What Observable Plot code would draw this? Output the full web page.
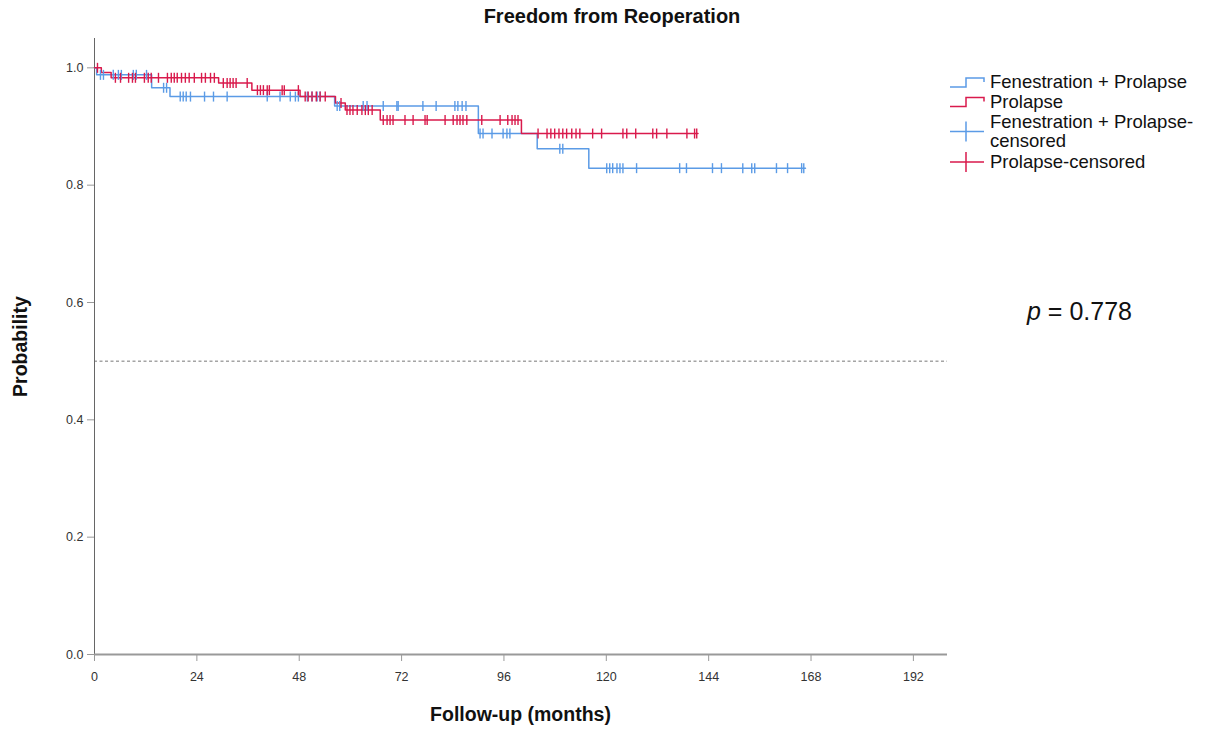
<!DOCTYPE html>
<html>
<head>
<meta charset="utf-8">
<script src="https://cdn.jsdelivr.net/npm/d3@7"></script>
<script src="https://cdn.jsdelivr.net/npm/@observablehq/plot@0.6"></script>
<style>
  body { margin: 0; background: #fff; font-family: "Liberation Sans", Arial, Helvetica, sans-serif; }
  #wrap { position: relative; width: 1216px; height: 729px; }
  .ov { position: absolute; color: #111; white-space: nowrap; }
</style>
</head>
<body>
<div id="wrap"></div>
<script>
// ---- data ----
const seriesNames = ["Fenestration + Prolapse", "Prolapse"];
const seriesColors = ["#5b9be6", "#d91a4c"];

// Kaplan–Meier step points
const blueTimes = [0, 0.5, 13.4, 17.7, 56.3, 90.0, 103.8, 115.9, 166.7];
const blueSurv  = [1.0, 0.988, 0.966, 0.951, 0.935, 0.888, 0.862, 0.829, 0.829];
const redTimes  = [0, 1.6, 3.9, 29.1, 36.9, 48.2, 56.5, 58.8, 67.0, 100.1, 141.5];
const redSurv   = [1.0, 0.992, 0.983, 0.974, 0.962, 0.951, 0.940, 0.928, 0.911, 0.888, 0.888];

// censoring times (months)
const blueCensor = [1.4, 2.1, 4.4, 5.6, 6.3, 9.1, 9.8, 12.2,
  16.2, 16.9,
  20.1, 20.8, 21.5, 22.5, 25.8, 27.9, 31.1, 40.5, 43.5, 45.9, 47.1, 47.8, 49.9, 51.0, 52.2, 52.9,
  56.9, 57.5, 63.0, 63.9, 67.7, 70.9, 71.2, 77.0, 80.1, 84.5, 85.2, 86.2, 87.1,
  90.4, 91.1, 93.2, 95.8, 96.7, 97.4,
  109.1, 109.8,
  120.1, 120.8, 121.5, 122.5, 123.2, 123.9, 127.1, 137.2, 138.8, 144.9, 147.0, 152.0, 154.1, 154.8,
  159.9, 162.5, 165.8, 166.3];
const redCensor = [0.7,
  4.9, 6.1, 8.0, 8.9, 9.6, 11.7, 12.6, 13.3, 15.0, 17.1, 18.0, 18.7, 19.4, 20.4, 21.3, 22.2, 23.4,
  25.1, 26.0, 27.2, 28.1,
  30.2, 31.1, 31.8, 32.5, 33.2, 35.8,
  38.2, 38.9, 39.6, 40.5, 41.0, 44.0, 44.5, 47.8,
  49.4, 50.1, 51.0, 52.0, 52.9, 54.1,
  57.8,
  59.2, 59.9, 60.6, 61.6, 62.7, 63.5, 64.2, 65.1,
  67.7, 68.6, 69.3, 70.0, 72.8, 74.7, 77.5, 78.0, 82.2, 84.1, 85.0, 85.7, 86.4, 87.3, 90.8,
  95.1, 96.9, 97.9, 98.6, 99.3,
  104.0, 106.1, 107.0, 107.9, 108.9, 109.8, 110.7, 111.9, 112.9, 113.8, 116.8, 118.9, 123.9,
  124.8, 126.9, 130.9, 131.8, 134.2, 138.9, 140.7, 141.2];

const xTicks = [0, 24, 48, 72, 96, 120, 144, 168, 192];
const yTicks = [0, 0.2, 0.4, 0.6, 0.8, 1.0];
const pText = "0.778";

// ---- build tables ----
function stepTable(times, surv, name) {
  return times.map((t, i) => ({t, s: surv[i], name}));
}
function survAt(times, surv, t) {
  let v = surv[0];
  for (let i = 0; i < times.length; i++) if (times[i] <= t) v = surv[i];
  return v;
}
const curves = [
  ...stepTable(blueTimes, blueSurv, seriesNames[0]),
  ...stepTable(redTimes, redSurv, seriesNames[1])
];
const censors = [
  ...blueCensor.map(t => ({t, s: survAt(blueTimes, blueSurv, t), name: seriesNames[0]})),
  ...redCensor.map(t => ({t, s: survAt(redTimes, redSurv, t), name: seriesNames[1]}))
];

const vtick = {
  draw(context, size) {
    const h = Math.sqrt(size / Math.PI);
    context.moveTo(0, -h);
    context.lineTo(0, h);
  }
};

const chart = Plot.plot({
  width: 1216,
  height: 729,
  marginLeft: 94,
  marginRight: 269,
  marginTop: 38,
  marginBottom: 75,
  style: {fontFamily: '"Liberation Sans", Arial, Helvetica, sans-serif', fontSize: "12.5px", background: "white"},
  x: {domain: [0, 200]},
  y: {domain: [0, 1.05]},
  color: {domain: seriesNames, range: seriesColors},
  marks: [
    Plot.ruleY([0.5], {stroke: "#777", strokeDasharray: "3,2.5", strokeWidth: 1}),
    Plot.axisY({ticks: yTicks, tickFormat: d3.format(".1f"), tickSize: 7, tickPadding: 4, stroke: "#999", fill: "#333", label: null}),
    Plot.axisX({ticks: xTicks, tickSize: 7, tickPadding: 11, stroke: "#999", fill: "#333", label: null}),
    Plot.ruleX([0], {stroke: "#666", strokeWidth: 1}),
    Plot.ruleY([0], {stroke: "#999", strokeWidth: 2}),
    Plot.line(curves, {x: "t", y: "s", z: "name", stroke: "name", curve: "step-after", strokeWidth: 1.5}),
    Plot.dot(censors, {x: "t", y: "s", stroke: "name", symbol: vtick, r: 5, strokeWidth: 1.4})
  ]
});

const wrap = document.getElementById("wrap");
wrap.appendChild(chart);

function addDiv(html, style) {
  const d = document.createElement("div");
  d.className = "ov";
  d.innerHTML = html;
  Object.assign(d.style, style);
  wrap.appendChild(d);
  return d;
}
// title
addDiv("Freedom from Reoperation", {left: "0px", width: "1224px", top: "5px", textAlign: "center", fontWeight: "bold", fontSize: "20px"});
// x label
addDiv("Follow-up (months)", {left: "94px", width: "853px", top: "703px", textAlign: "center", fontWeight: "bold", fontSize: "19.5px"});
// y label
addDiv("Probability", {left: "-40px", top: "335px", width: "120px", textAlign: "center", fontWeight: "bold", fontSize: "19.5px", transform: "rotate(-90deg)"});
// p value
addDiv('<i>p</i> = ' + pText, {left: "1027px", top: "297px", fontSize: "25px"});

// legend (separate SVG overlay, one text per line)
const legendLines = [
  {lines: [seriesNames[0]], color: seriesColors[0], kind: "step", y: [82]},
  {lines: [seriesNames[1]], color: seriesColors[1], kind: "step", y: [101.5]},
  {lines: [seriesNames[0] + "-", "censored"], color: seriesColors[0], kind: "plus", y: [122, 141]},
  {lines: [seriesNames[1] + "-censored"], color: seriesColors[1], kind: "plus", y: [162]}
];
const leg = d3.select(wrap).append("svg")
  .attr("width", 268).attr("height", 130)
  .style("position", "absolute").style("left", "946px").style("top", "60px")
  .style("font-family", '"Liberation Sans", Arial, Helvetica, sans-serif');
const ox = 946, oy = 60;
legendLines.forEach(it => {
  const cy = it.kind === "step" ? it.y[0] - oy : (it.y[0] + it.y[it.y.length - 1]) / 2 - oy;
  const x0 = 950 - ox, xm = 966 - ox, x1 = 984 - ox;
  if (it.kind === "step") {
    leg.append("path").attr("d", `M${x0},${cy + 5}H${xm}V${cy - 4}H${x1}V${cy}`)
      .attr("fill", "none").attr("stroke", it.color).attr("stroke-width", 1.5);
  } else {
    leg.append("path").attr("d", `M${x0},${cy}H${x1}M${xm},${cy - 10}V${cy + 10}`)
      .attr("fill", "none").attr("stroke", it.color).attr("stroke-width", 1.5);
  }
  it.lines.forEach((ln, i) => {
    leg.append("text").attr("x", 990 - ox).attr("y", it.y[i] - oy)
      .attr("dy", "0.35em").attr("font-size", 18.5).attr("fill", "#111").text(ln);
  });
});
</script>
</body>
</html>
